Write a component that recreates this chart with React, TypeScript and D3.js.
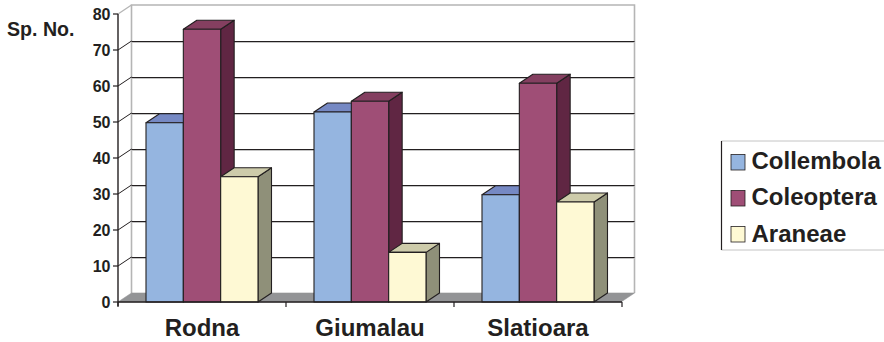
import React from "react";
import * as d3 from "d3";

const categories = ["Rodna", "Giumalau", "Slatioara"];
const seriesNames = ["Collembola", "Coleoptera", "Araneae"];
const collembola = [50, 53, 30];
const coleoptera = [76, 56, 61];
const araneae = [35, 14, 28];
const seriesValues = [collembola, coleoptera, araneae];
const yTicks = [0, 10, 20, 30, 40, 50, 60, 70, 80];

const frontColors = ["#95b5e0", "#9f4e76", "#fef9d4"];
const topColors = ["#7689c4", "#843f60", "#cdcbaa"];
const sideColors = ["#5d6f96", "#602643", "#8f9079"];
const edge = "#231f20";
const font = "Liberation Sans, Arial, sans-serif";

const depthX = 13.5;
const depthY = -9;
// Bar tops sit a hair under the gridline of the same value.
const barDrop = 0.8;

const x0 = d3.scaleBand<string>().domain(categories).range([118, 622]).paddingInner(0).paddingOuter(0);
const y = d3.scaleLinear().domain([0, 80]).range([302, 14]);
const x1 = d3.scaleBand<number>().domain([0, 1, 2]).range([28, 140]);

const pts = (p: [number, number][]) => p.map((q) => q.join(",")).join(" ");

export default function App() {
  const left = 118;
  const right = 621;
  const base = y(0);
  return (
    <svg
      width={884}
      height={342}
      viewBox="0 0 884 342"
      style={{ position: "absolute", left: 0, top: 0, background: "#fff" }}
      fontFamily={font}
      fontWeight="bold"
      fill="#231f20"
    >
      {/* back wall and side wall frame */}
      <polyline
        points={pts([
          [left + depthX, base + depthY],
          [left + depthX, y(80) + depthY],
          [right + depthX, y(80) + depthY],
          [right + depthX, base + depthY],
        ])}
        fill="none"
        stroke="#b5b5b5"
        strokeWidth={1.6}
      />
      <line
        x1={left}
        y1={y(80)}
        x2={left + depthX}
        y2={y(80) + depthY}
        stroke="#b5b5b5"
        strokeWidth={1.4}
      />

      {/* floor */}
      <polygon
        points={pts([
          [left, base],
          [left + depthX, base + depthY],
          [right + depthX, base + depthY],
          [right, base],
        ])}
        fill="#939496"
        stroke="#939496"
        strokeWidth={0.6}
      />

      {/* gridlines on both walls */}
      {yTicks.slice(1, -1).map((t) => (
        <g key={t}>
          <line x1={left + depthX} x2={right + depthX} y1={y(t) + depthY + 1.5} y2={y(t) + depthY + 1.5} stroke="#c4c4c4" strokeWidth={1} />
          <line x1={left + depthX} x2={right + depthX} y1={y(t) + depthY + 0.5} y2={y(t) + depthY + 0.5} stroke={edge} strokeWidth={1} />
          <line x1={left} x2={left + depthX} y1={y(t)} y2={y(t) + depthY} stroke={edge} strokeWidth={1} />
        </g>
      ))}

      {/* bars, each with a side, a top and a front face */}
      {categories.map((cat, c) =>
        seriesValues.map((vals, s) => {
          const xa = (x0(cat) as number) + (x1(s) as number);
          const xb = xa + x1.bandwidth();
          const yt = y(vals[c]) + barDrop;
          return (
            <g key={cat + s} stroke={edge} strokeWidth={1.1} strokeLinejoin="round">
              <polygon
                points={pts([
                  [xb, yt],
                  [xb + depthX, yt + depthY],
                  [xb + depthX, base + depthY],
                  [xb, base],
                ])}
                fill={sideColors[s]}
              />
              <polygon
                points={pts([
                  [xa, yt],
                  [xa + depthX, yt + depthY],
                  [xb + depthX, yt + depthY],
                  [xb, yt],
                ])}
                fill={topColors[s]}
              />
              <rect x={xa} y={yt} width={xb - xa} height={base - yt} fill={frontColors[s]} />
            </g>
          );
        })
      )}

      {/* value axis */}
      <line x1={left} x2={left} y1={y(80)} y2={base + 4} stroke={edge} strokeWidth={1.4} />
      {yTicks.map((t) => (
        <g key={t}>
          <line x1={left - 5} x2={left} y1={y(t)} y2={y(t)} stroke={edge} strokeWidth={1.2} />
          <text x={110.5} y={y(t) + 6} textAnchor="end" fontSize={16}>
            {t}
          </text>
        </g>
      ))}
      <text x={7} y={36} fontSize={19.6}>
        Sp. No.
      </text>

      {/* category axis */}
      <line x1={left} x2={right + 1} y1={base} y2={base} stroke={edge} strokeWidth={1.4} />
      {[...categories.map((c) => x0(c) as number), right + 1].map((tx) => (
        <line key={tx} x1={tx} x2={tx} y1={base} y2={base + 5} stroke={edge} strokeWidth={1.2} />
      ))}
      {categories.map((cat) => (
        <text
          key={cat}
          x={(x0(cat) as number) + x0.bandwidth() / 2}
          y={336}
          textAnchor="middle"
          fontSize={24}
        >
          {cat}
        </text>
      ))}

      {/* legend */}
      <polyline
        points={pts([
          [884, 141],
          [721.5, 141],
          [721.5, 250],
          [884, 250],
        ])}
        fill="none"
        stroke="#c4c4c4"
        strokeWidth={1}
      />
      <line x1={721.5} x2={721.5} y1={141} y2={250} stroke={edge} strokeWidth={1.2} />
      {seriesNames.map((name, i) => (
        <g key={name}>
          <rect
            x={731}
            y={154.5 + i * 36}
            width={14}
            height={15.5}
            fill={frontColors[i]}
            stroke={edge}
            strokeWidth={0.8}
          />
          <text x={751.5} y={168.5 + i * 36.5} fontSize={24}>
            {name}
          </text>
        </g>
      ))}
    </svg>
  );
}
